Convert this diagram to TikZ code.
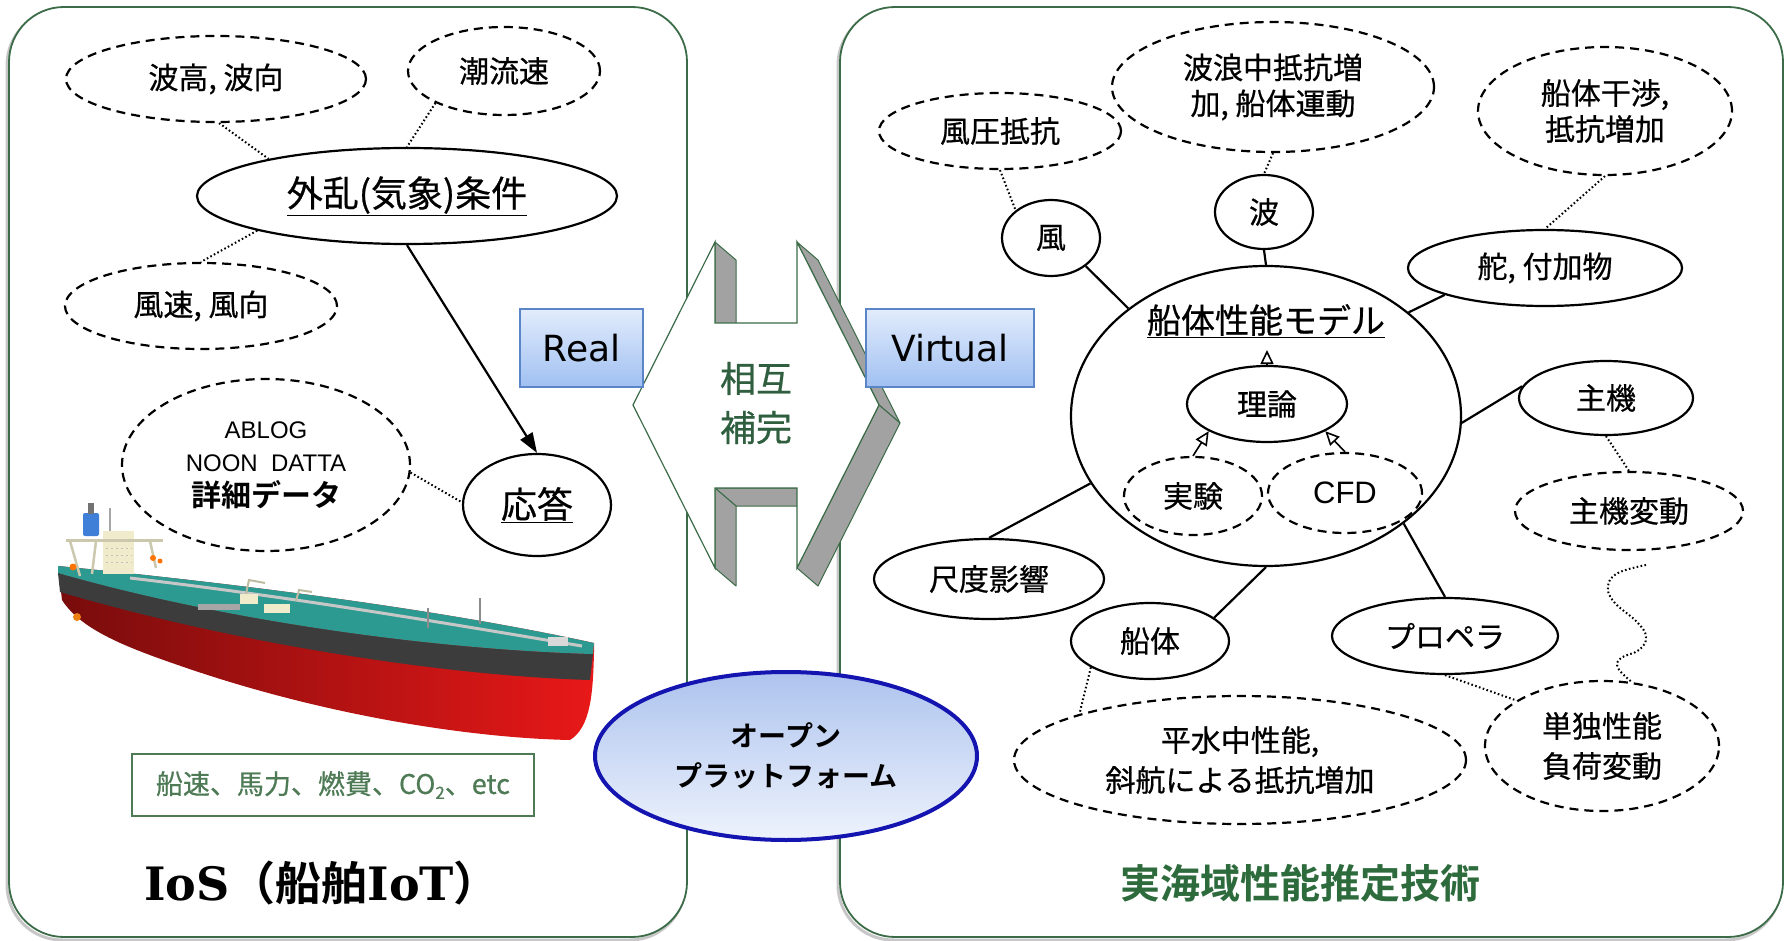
\documentclass[tikz,border=0pt]{standalone}
\usepackage{fontspec}
\setmainfont{Noto Sans CJK JP}[BoldFont=* Bold, UprightFeatures={FakeBold=0.6}]
\newfontfamily\verdfont{DejaVu Sans}
\newfontfamily\slabfont{DejaVu Serif}[BoldFont=* Bold]
\newfontfamily\arialfont{Liberation Sans}
\usetikzlibrary{shapes.geometric,arrows.meta,calc}

\definecolor{panelgreen}{HTML}{3B6B47}
\definecolor{titlegreen}{HTML}{2D6B3C}
\definecolor{boxgreen}{HTML}{4E7B55}
\definecolor{midgreen}{HTML}{2F5F3F}
\definecolor{boxblueA}{HTML}{E2ECFC}
\definecolor{boxblueB}{HTML}{A0C0F2}
\definecolor{boxedge}{HTML}{5A86C8}
\definecolor{platedge}{HTML}{1414B0}
\definecolor{platA}{HTML}{ADC3EE}
\definecolor{platB}{HTML}{EEF3FC}
\definecolor{facegray}{HTML}{A2A2A2}
\definecolor{hulldark}{HTML}{780C0C}
\definecolor{hullbright}{HTML}{E81818}
\definecolor{bandgray}{HTML}{3C3C3C}
\definecolor{deckteal}{HTML}{2D9A92}
\definecolor{cream}{HTML}{EFEBCB}
\definecolor{funnelblue}{HTML}{3F7FD8}

\newcommand{\fsz}[2]{\fontsize{#1}{#2}\selectfont}

\begin{document}
\begin{tikzpicture}[x=1pt,y=-1pt,
  lab/.style={ellipse, inner sep=0pt, line width=2.2pt, align=center, font=\fsz{30}{36}},
  solidell/.style={lab, draw=black},
  dashell/.style={lab, draw=black, dash pattern=on 9pt off 6pt},
  dotline/.style={line width=2pt, dash pattern=on 1.6pt off 2.4pt},
  linkline/.style={line width=2.2pt},
  mainarrow/.style={line width=2.2pt, -{Triangle[length=20pt,width=14pt]}},
  openarrow/.style={line width=1.6pt, -{Triangle[open,length=14pt,width=13pt,line width=1.6pt]}},
  panel/.style={draw=panelgreen, line width=1.8pt, fill=white, rounded corners=55pt},
  panelshadow/.style={draw=black!22, line width=3pt, rounded corners=55pt},
  bluebox/.style={rectangle, draw=boxedge, line width=1.5pt, top color=boxblueA, bottom color=boxblueB,
    minimum height=78pt, inner sep=0pt, font=\verdfont\fsz{36}{40}},
  sideface/.style={fill=facegray, draw=panelgreen, line width=1pt, line join=round},
]
\useasboundingbox (0,0) rectangle (1786,941);

% ---------- the two panels ----------
\draw[panelshadow] (7,10) rectangle (685,940);
\draw[panelshadow] (838,10) rectangle (1781,940);
\draw[panel] (9,7) rectangle (687,937);
\draw[panel] (840,7) rectangle (1783,937);

% ---------- central extruded block with notches ----------
\coordinate (pL) at (633,405);
\coordinate (pA) at (715,242);
\coordinate (pB) at (715,323);
\coordinate (pC) at (797,323);
\coordinate (pD) at (797,242);
\coordinate (pR) at (879,405);
\coordinate (pE) at (797,568);
\coordinate (pF) at (797,488);
\coordinate (pG) at (715,488);
\coordinate (pH) at (715,568);
% visible side faces (depth offset 21,18)
\path[sideface] (pA) -- (pB) -- ++(21,18) -- ($(pA)+(21,18)$) -- cycle;
\path[sideface] (pD) -- (pR) -- ++(21,18) -- ($(pD)+(21,18)$) -- cycle;
\path[sideface] (pR) -- (pE) -- ++(21,18) -- ($(pR)+(21,18)$) -- cycle;
\path[sideface] (pF) -- (pG) -- ++(21,18) -- ($(pF)+(21,18)$) -- cycle;
\path[sideface] (pG) -- (pH) -- ++(21,18) -- ($(pG)+(21,18)$) -- cycle;
% front face
\draw[panelgreen, line width=1.2pt, fill=white, line join=miter]
  (pL) -- (pA) -- (pB) -- (pC) -- (pD) -- (pR) -- (pE) -- (pF) -- (pG) -- (pH) -- cycle;
\node[text=midgreen, font=\fsz{36}{49}, align=center] (sougo) at (756,403) {相互\\補完};

% ---------- Real / Virtual ----------
\node[bluebox, minimum width=123pt] (real) at (581.5,348) {Real};
\node[bluebox, minimum width=168pt] (virtual) at (950,348) {Virtual};

% ---------- open platform ----------
\node[ellipse, minimum width=382pt, minimum height=168pt, inner sep=0pt, draw=platedge, line width=4pt,
      top color=platA, bottom color=platB, align=center, font=\bfseries\fsz{28}{40}]
  (platform) at (786,756) {オープン\\プラットフォーム};

% ---------- tanker ----------
% hull
\path[left color=hulldark, right color=hullbright]
  (58,566) .. controls (200,580) and (420,605) .. (594,643)
  -- (594,652) .. controls (593,692) and (591,727) .. (570,740)
  .. controls (470,738) and (320,715) .. (175,664)
  .. controls (120,645) and (80,628) .. (62,600) -- cycle;
% dark band
\fill[bandgray]
  (58,573) .. controls (240,625) and (450,650) .. (593,654)
  -- (590,680) .. controls (450,676) and (240,645) .. (60,592) -- cycle;
% deck
\fill[deckteal]
  (58,566) .. controls (200,580) and (420,605) .. (594,643)
  -- (593,654) .. controls (450,650) and (240,625) .. (58,573) -- cycle;
% deck piping and fittings
\draw[black!22, line width=3pt] (130,578) .. controls (300,598) and (450,624) .. (582,646);
\fill[black!35] (198,604) rectangle (240,610);
\fill[cream] (240,594) rectangle (258,604);
\fill[cream] (264,604) rectangle (290,613);
\draw[cream!80!black, line width=2pt] (246,594) -- (249,580) -- (265,583);
\draw[cream!80!black, line width=2pt] (296,601) -- (299,590) -- (312,592);
\draw[black!45, line width=1.5pt] (428,608) -- (428,628);
\draw[black!45, line width=1.5pt] (480,598) -- (480,624);
\fill[black!15] (548,637) rectangle (568,646);
% accommodation block, crane frame and funnel
\fill[cream] (103,531) rectangle (134,574);
\foreach \wy in {541,548,555,562}
  \draw[black!25, line width=1pt, dash pattern=on 2pt off 3pt] (106,\wy) -- (132,\wy);
\draw[cream!85!black, line width=3pt] (66,540) -- (163,540);
\draw[cream!85!black, line width=2.5pt] (70,541) -- (80,576);
\draw[cream!85!black, line width=2.5pt] (96,541) -- (92,574);
\draw[cream!85!black, line width=2.5pt] (150,541) -- (156,568);
\fill[funnelblue, rounded corners=2pt] (83,513) rectangle (99,536);
\fill[black!55] (88,503) rectangle (94,514);
\draw[black!35, line width=1.5pt] (110,508) -- (110,531);
\fill[orange!90!red] (73,567) circle (3.5);
\fill[orange!90!red] (153,558) circle (3);
\fill[orange!90!red] (160,561) circle (2.5);
\fill[orange!70!brown] (77,617) circle (4);

% ---------- left panel: weather and response ----------
\node[dashell, minimum width=300pt, minimum height=86pt] (hakou) at (216,79) {波高, 波向};
\node[dashell, minimum width=192pt, minimum height=88pt] (chouryu) at (504,71) {潮流速};
\node[solidell, minimum width=420pt, minimum height=96pt, font=\fsz{36}{40}] (gairan) at (407,196) {\underline{外乱(気象)条件}};
\node[dashell, minimum width=272pt, minimum height=86pt] (fuusoku) at (201,306) {風速, 風向};
\node[dashell, minimum width=288pt, minimum height=172pt, font=\arialfont\fsz{24}{33}] (ablog) at (266,465)
  {ABLOG\\NOON\ \ DATTA\\[2pt]{\bfseries\rmfamily\fsz{30}{34}詳細データ}};
\node[solidell, minimum width=148pt, minimum height=102pt, font=\fsz{36}{40}] (outou) at (537,505) {\underline{応答}};

\draw[dotline] (hakou.-86) -- (gairan.165);
\draw[dotline] (chouryu.-155) -- (gairan.north);
\draw[dotline] (gairan.193) -- (fuusoku.north);
\draw[mainarrow] (gairan.south) -- (outou.north);
\draw[dotline] (ablog.-3) -- (outou.178);

\node[draw=boxgreen, line width=1.5pt, minimum width=402pt, minimum height=62pt, inner sep=0pt,
      text=boxgreen, font=\fsz{27}{30}] (databox) at (333,785)
  {船速、馬力、燃費、CO\raisebox{-5pt}{\fsz{17}{17}2}、etc};
\node[font=\bfseries\fsz{46}{50}] (iostitle) at (322,883) {{\slabfont\bfseries IoS}（船舶{\slabfont\bfseries IoT}）};

% ---------- right panel: hull performance model ----------
\node[dashell, minimum width=242pt, minimum height=76pt] (fuuatsu) at (1000,131) {風圧抵抗};
\node[dashell, minimum width=322pt, minimum height=130pt] (harou) at (1273,87) {波浪中抵抗増\\加, 船体運動};
\node[dashell, minimum width=254pt, minimum height=128pt] (kanshou) at (1605,111) {船体干渉,\\抵抗増加};
\node[solidell, minimum width=98pt, minimum height=76pt] (kaze) at (1051,238) {風};
\node[solidell, minimum width=98pt, minimum height=74pt] (nami) at (1264,212) {波};
\node[solidell, minimum width=274pt, minimum height=76pt] (kaji) at (1545,268) {舵, 付加物};
\node[solidell, minimum width=390pt, minimum height=300pt] (model) at (1266,416) {};
\node[font=\fsz{34}{38}] (modeltitle) at (1266,321) {\underline{船体性能モデル}};
\coordinate (modeltip) at (1267,350);
\node[solidell, minimum width=160pt, minimum height=76pt] (riron) at (1267,404) {理論};
\node[dashell, minimum width=138pt, minimum height=78pt] (jikken) at (1193,496) {実験};
\node[dashell, minimum width=154pt, minimum height=80pt, font=\arialfont\fsz{31}{36}] (cfd) at (1345,493) {CFD};
\node[solidell, minimum width=174pt, minimum height=74pt] (shuki) at (1606,398) {主機};
\node[solidell, minimum width=230pt, minimum height=80pt] (shakudo) at (989,579) {尺度影響};
\node[solidell, minimum width=158pt, minimum height=76pt] (sentai) at (1150,641) {船体};
\node[solidell, minimum width=226pt, minimum height=76pt] (propeller) at (1445,636) {プロペラ};
\node[dashell, minimum width=228pt, minimum height=78pt] (shukihendou) at (1629,511) {主機変動};
\node[dashell, minimum width=452pt, minimum height=128pt, font=\fsz{30}{40}] (heisui) at (1240,760) {平水中性能,\\斜航による抵抗増加};
\node[dashell, minimum width=234pt, minimum height=130pt, font=\fsz{30}{40}] (tandoku) at (1602,746) {単独性能\\負荷変動};
\coordinate (squigstart) at (1646,565);

\draw[linkline] (kaze.-39) -- (model.142);
\draw[linkline] (nami.south) -- (model.north);
\draw[linkline] (kaji.195) -- (model.36);
\draw[linkline] (shuki.172) -- (model.-2);
\draw[linkline] (shakudo.north) -- (model.201);
\draw[linkline] (sentai.20) -- (model.south);
\draw[linkline] (propeller.north) -- (model.-38);

\draw[openarrow] (riron.north) -- (modeltip);
\draw[openarrow] (jikken.north) -- (riron.205);
\draw[openarrow] (cfd.north) -- (riron.-25);

\draw[dotline] (fuuatsu.south) -- (kaze.142);
\draw[dotline] (harou.south) -- (nami.north);
\draw[dotline] (kanshou.south) -- (kaji.north);
\draw[dotline] (shuki.south) -- (shukihendou.north);
\draw[dotline] plot[smooth, tension=0.7] coordinates
  {(squigstart) (1618,573) (1608,586) (1614,602) (1637,622) (1646,637) (1639,650) (1621,658) (1618,668) (tandoku.65)};
\draw[dotline] (sentai.204) -- (heisui.164);
\draw[dotline] (propeller.south) -- (tandoku.152);

\node[font=\bfseries\fsz{40}{44}, text=titlegreen] (rtitle) at (1300,883) {実海域性能推定技術};
\end{tikzpicture}
\end{document}
